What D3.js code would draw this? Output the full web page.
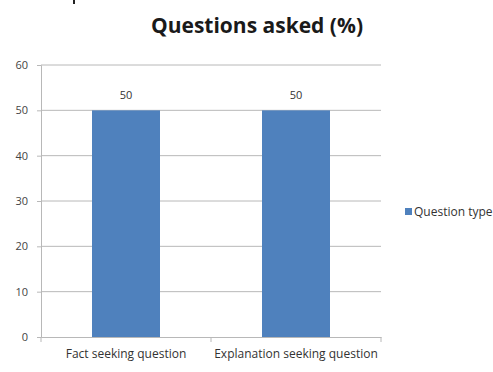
<!DOCTYPE html>
<html>
<head>
<meta charset="utf-8">
<script src="https://cdn.jsdelivr.net/npm/d3@7"></script>
<style>
  html, body { margin: 0; padding: 0; background: #fff; }
  svg { display: block; }
  text { font-family: "Open Sans", "DejaVu Sans Condensed", sans-serif; }
</style>
</head>
<body>
<svg id="chart" width="493" height="372"></svg>
<script>
// Chart data
const categories = ["Fact seeking question", "Explanation seeking question"];
const values = [50, 50];
const seriesName = "Question type";
const yTicks = [0, 10, 20, 30, 40, 50, 60];
const title = "Questions asked (%)";

const svg = d3.select("#chart");
const margin = { left: 41, right: 112, top: 65, bottom: 35 };
const width = 493, height = 372;

const x = d3.scaleBand()
  .domain(categories)
  .range([margin.left, width - margin.right])
  .paddingInner(0.6)
  .paddingOuter(0.3);

const y = d3.scaleLinear()
  .domain([0, 60])
  .range([height - margin.bottom, margin.top]);

// small stroke at top-left
svg.append("rect").attr("x", 73).attr("y", 0).attr("width", 2).attr("height", 4).attr("fill", "#222");

// Title
svg.append("text")
  .attr("x", 257).attr("y", 33)
  .attr("text-anchor", "middle")
  .attr("font-size", 21).attr("font-weight", "bold")
  .attr("fill", "#1a1a1a")
  .text(title);

// Gridlines
svg.append("g").selectAll("line").data(yTicks.filter(d => d > 0)).join("line")
  .attr("x1", margin.left).attr("x2", width - margin.right)
  .attr("y1", d => y(d)).attr("y2", d => y(d))
  .attr("stroke", "#b8b8b8").attr("stroke-width", 1);

// Y axis
const yAxis = svg.append("g")
  .attr("transform", `translate(${margin.left},0)`)
  .call(d3.axisLeft(y).tickValues(yTicks).tickSize(4).tickPadding(9));
yAxis.select(".domain").attr("stroke", "#b8b8b8");
yAxis.selectAll(".tick line").attr("stroke", "#b8b8b8");
yAxis.selectAll("text").attr("font-size", 11).attr("fill", "#444")
  .style("font-family", "\"Open Sans\", sans-serif");

// Bars
svg.append("g").selectAll("rect").data(values).join("rect")
  .attr("x", (d, i) => x(categories[i]))
  .attr("y", d => y(d))
  .attr("width", x.bandwidth())
  .attr("height", d => y(0) - y(d))
  .attr("fill", "#4F81BD");

// X axis
const xAxis = svg.append("g")
  .attr("transform", `translate(0,${y(0)})`)
  .call(d3.axisBottom(x).tickSize(0).tickPadding(12));
xAxis.select(".domain").attr("stroke", "#b8b8b8");
xAxis.selectAll("text").attr("font-size", 12).attr("fill", "#333")
  .style("font-family", "\"Open Sans\", sans-serif");
// category boundary ticks
const bounds = [margin.left, (x(categories[0]) + x.bandwidth() + x(categories[1])) / 2, width - margin.right];
svg.append("g").selectAll("line").data(bounds).join("line")
  .attr("x1", d => d).attr("x2", d => d)
  .attr("y1", y(0)).attr("y2", y(0) + 5)
  .attr("stroke", "#b8b8b8");

// Value labels
svg.append("g").selectAll("text").data(values).join("text")
  .attr("x", (d, i) => x(categories[i]) + x.bandwidth() / 2)
  .attr("y", d => y(d) - 11)
  .attr("text-anchor", "middle")
  .attr("font-size", 11).attr("fill", "#333")
  .text(d => d);

// Legend
const lg = svg.append("g").attr("transform", "translate(405,208)");
lg.append("rect").attr("width", 7).attr("height", 7).attr("fill", "#4F81BD");
lg.append("text").attr("x", 9).attr("y", 7.5)
  .attr("font-size", 12).attr("fill", "#333").text(seriesName);
</script>
</body>
</html>
